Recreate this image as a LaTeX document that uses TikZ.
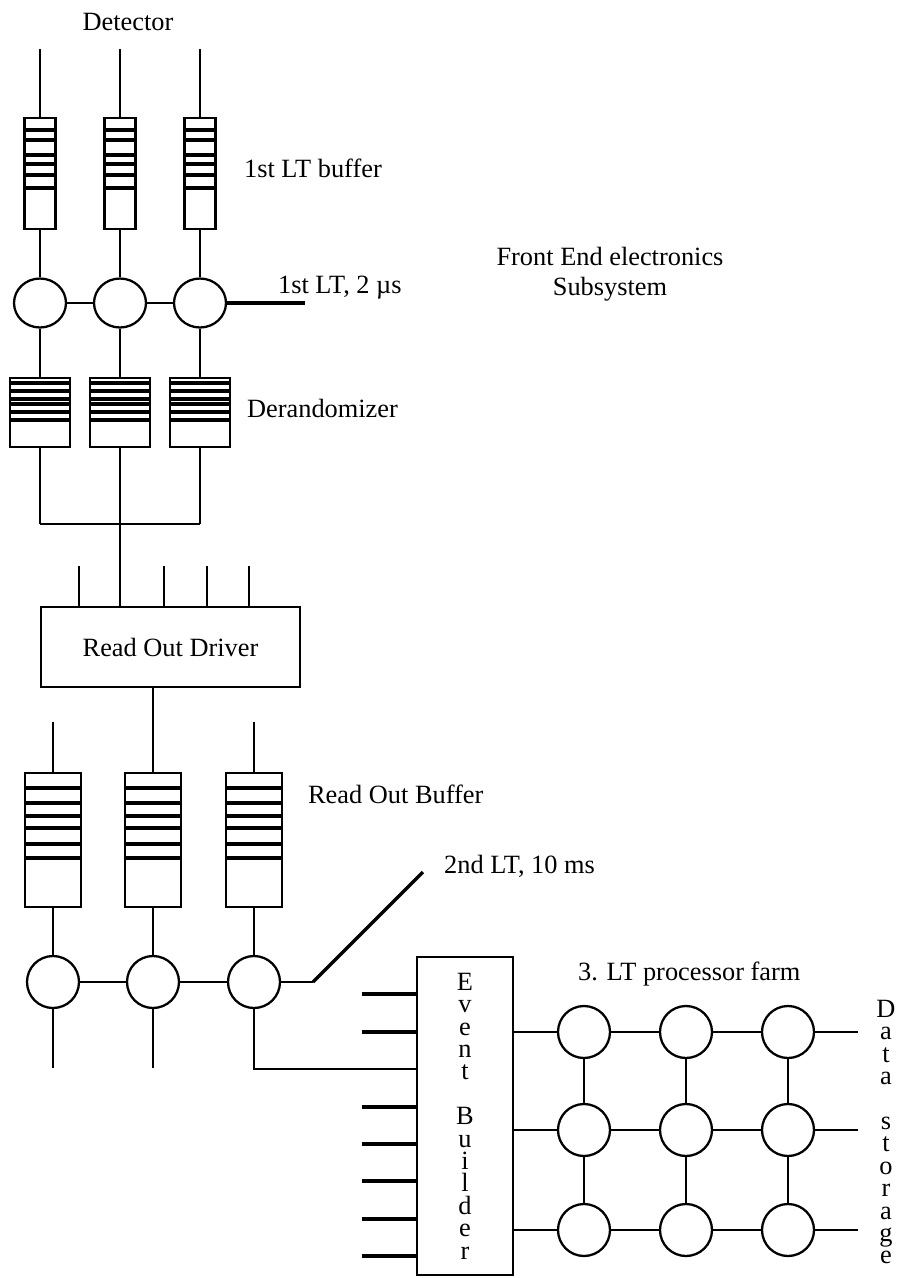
\documentclass[tikz,border=0pt]{standalone}
\usepackage{fontspec}
\setmainfont{Liberation Serif}
\usetikzlibrary{shapes.geometric}

\begin{document}
\begin{tikzpicture}[x=0.02cm,y=-0.02cm,line width=1.3pt,
    font=\fontsize{15pt}{17pt}\selectfont,
    box/.style={draw,rectangle,inner sep=0pt},
    trig/.style={draw,ellipse,inner sep=0pt,minimum width=1.04cm,minimum height=0.98cm},
    proc/.style={draw,circle,inner sep=0pt,minimum size=1.04cm},
    stripe/.style={line width=1.9pt},
    heavy/.style={line width=1.9pt},
    txt/.style={anchor=base west,inner sep=0pt},
    stack/.style={align=center,inner sep=0pt,font=\fontsize{15pt}{12.75pt}\selectfont}]
  \useasboundingbox (0,0) rectangle (898,1278);
  \node[anchor=base,inner sep=0pt] (detector) at (128,30) {Detector};
  \foreach \x [count=\i] in {40,120,200} {
    \coordinate (det\i) at (\x,49);
    \node[box,minimum width=0.62cm,minimum height=2.22cm] (ltb\i) at (\x,173.5) {};
    \node[trig] (lt\i) at (\x,303) {};
    \node[box,minimum width=1.2cm,minimum height=1.38cm] (der\i) at (\x,412.5) {};
    \coordinate (bus\i) at (\x,524);
    \draw (det\i) -- (ltb\i) -- (lt\i) -- (der\i) -- (bus\i);
    \foreach \yy in {130,140,155,164,175,188}
      \draw[stripe] (ltb\i.west |- 0,\yy) -- (ltb\i.east |- 0,\yy);
    \foreach \yy in {383,391,399,404,412,420}
      \draw[stripe] (der\i.west |- 0,\yy) -- (der\i.east |- 0,\yy);
  }
  \coordinate (lt1out) at (305,303);
  \draw (lt1) -- (lt2) -- (lt3);
  \draw[heavy] (lt3) -- (lt1out);
  \node[txt] (ltbuf) at (243,177) {1st LT buffer};
  \node[txt] (lt1text) at (277,293) {1st LT, 2 µs};
  \node[align=center] (fee) at (610,274) {Front End electronics\\Subsystem};
  \node[txt] (dertext) at (246,417) {Derandomizer};

  \node[box,minimum width=5.18cm,minimum height=1.6cm] (rod) at (170.5,647) {Read Out Driver};
  \draw (bus1) -- (bus3);
  \draw (bus2) -- (bus2 |- rod.north);
  \foreach \x [count=\n] in {79,164,207,249} {
    \coordinate (rodin\n) at (\x,566);
    \draw (rodin\n) -- (rodin\n |- rod.north);
  }

  \foreach \x [count=\i] in {53,153,254} {
    \node[box,minimum width=1.12cm,minimum height=2.68cm] (rob\i) at (\x,840) {};
    \node[proc] (ro\i) at (\x,982) {};
    \draw (rob\i) -- (ro\i);
    \foreach \yy in {788,803,816,828,844,858}
      \draw[stripe] (rob\i.west |- 0,\yy) -- (rob\i.east |- 0,\yy);
  }
  \coordinate (robin1) at (53,722);
  \coordinate (robin3) at (254,722);
  \draw (robin1) -- (rob1);
  \draw (robin3) -- (rob3);
  \draw (rob2.north |- rod.south) -- (rob2);
  \draw (ro1) -- (ro2) -- (ro3);
  \node[txt] (robtext) at (307,803) {Read Out Buffer};
  \coordinate (lt2bend) at (313,982);
  \coordinate (lt2out) at (423,872);
  \draw (ro3) -- (lt2bend);
  \draw[heavy] (lt2bend) -- (lt2out);
  \node[txt] (lt2text) at (443,873) {2nd LT, 10 ms};
  \coordinate (out1) at (53,1068);
  \coordinate (out2) at (153,1068);
  \draw (ro1) -- (out1);
  \draw (ro2) -- (out2);

  \node[box,stack,minimum width=1.92cm,minimum height=6.36cm] (eb) at (465,1116)
    {E\\v\\e\\n\\t\\\mbox{}\\B\\u\\i\\l\\d\\e\\r};
  \foreach \yy [count=\n] in {994,1032,1069,1107,1144,1181,1219,1256}
    \coordinate (ebin\n) at (eb.west |- 0,\yy);
  \foreach \n in {1,2,4,5,6,7,8}
    \draw[heavy] (ebin\n) -- ++(-54,0);
  \draw (ro3) |- (ebin3);

  \foreach \y [count=\r] in {1032,1130,1230} {
    \foreach \x [count=\c] in {584,686,788}
      \node[proc] (f\r\c) at (\x,\y) {};
    \coordinate (ds\r) at (858,\y);
    \draw (eb.east |- f\r1) -- (f\r1) -- (f\r2) -- (f\r3) -- (ds\r);
  }
  \foreach \c in {1,2,3}
    \draw (f1\c) -- (f2\c) -- (f3\c);
  \node[txt] (farmtext) at (577,980) {3. LT processor farm};
  \node[stack,anchor=north] (storage) at (886,999)
    {D\\a\\t\\a\\\mbox{}\\s\\t\\o\\r\\a\\g\\e};
\end{tikzpicture}
\end{document}
